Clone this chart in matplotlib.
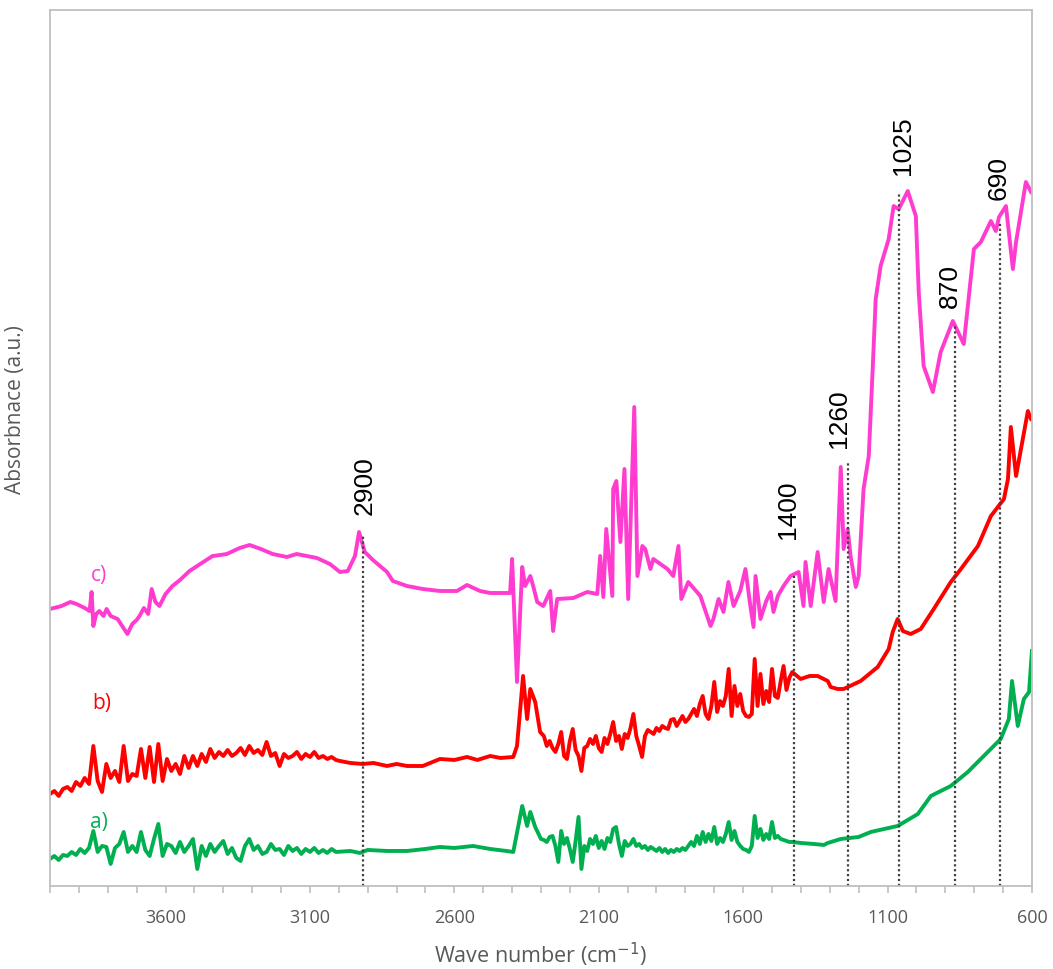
import numpy as np
import matplotlib
matplotlib.use("Agg")
import matplotlib.pyplot as plt
from matplotlib.ticker import MultipleLocator, FixedLocator

# ---- data (wavenumber in cm-1, absorbance in a.u.) ----
# noisy parts of the spectra are sampled on regular wavenumber grids
grid_hi = np.arange(4000, 3009, -15)   # 4000 ... 3010
grid_mid = np.arange(2290, 1429, -10)  # 2290 ... 1430

# a) green
a_hi = [0.27, 0.30, 0.26, 0.31, 0.30, 0.34, 0.31, 0.37, 0.33, 0.38, 0.55, 0.34,
        0.40, 0.39, 0.22, 0.38, 0.42, 0.54, 0.34, 0.40, 0.34, 0.54, 0.36, 0.30,
        0.47, 0.62, 0.30, 0.42, 0.40, 0.33, 0.44, 0.34, 0.40, 0.47, 0.17, 0.40,
        0.30, 0.42, 0.34, 0.40, 0.45, 0.32, 0.38, 0.28, 0.25, 0.40, 0.47, 0.36,
        0.40, 0.32, 0.34, 0.42, 0.36, 0.37, 0.31, 0.40, 0.35, 0.38, 0.32, 0.37,
        0.34, 0.38, 0.33, 0.36, 0.33, 0.37, 0.34]
a_mid_wn = [2960, 2927, 2900, 2833, 2764, 2700, 2650, 2600, 2535, 2476, 2420,
            2396, 2365, 2348, 2337, 2320, 2300]
a_mid = [0.35, 0.33, 0.36, 0.35, 0.35, 0.37, 0.39, 0.38, 0.40, 0.37, 0.35,
         0.34, 0.80, 0.60, 0.74, 0.59, 0.47]
a_noisy = [0.46, 0.44, 0.49, 0.50, 0.40, 0.24, 0.55, 0.42, 0.48, 0.37, 0.24, 0.45,
           0.69, 0.17, 0.40, 0.35, 0.47, 0.42, 0.50, 0.38, 0.45, 0.37, 0.48, 0.44,
           0.57, 0.59, 0.42, 0.30, 0.45, 0.40, 0.42, 0.47, 0.40, 0.42, 0.38, 0.40,
           0.36, 0.39, 0.37, 0.35, 0.38, 0.34, 0.37, 0.33, 0.36, 0.34, 0.37, 0.35,
           0.38, 0.36, 0.40, 0.44, 0.40, 0.50, 0.42, 0.54, 0.44, 0.52, 0.45, 0.59,
           0.42, 0.48, 0.44, 0.52, 0.64, 0.46, 0.55, 0.44, 0.40, 0.37, 0.36, 0.34,
           0.40, 0.70, 0.48, 0.57, 0.46, 0.52, 0.47, 0.64, 0.48, 0.50, 0.47, 0.46,
           0.45, 0.44, 0.44]
a_lo_wn = [1400, 1356, 1320, 1307, 1262, 1200, 1158, 1065, 995, 950, 881, 822,
           753, 708, 680, 669, 649, 628, 610, 600]
a_lo = [0.43, 0.42, 0.41, 0.43, 0.47, 0.49, 0.54, 0.60, 0.72, 0.90, 1.00, 1.14,
        1.34, 1.47, 1.67, 2.05, 1.60, 1.87, 1.94, 2.35]

# b) red
b_hi = [0.92, 0.95, 0.90, 0.97, 0.99, 0.95, 1.04, 1.00, 1.08, 1.02, 1.40, 1.05,
        0.94, 1.22, 1.08, 1.15, 1.04, 1.40, 1.05, 1.12, 1.10, 1.37, 1.08, 1.39,
        1.04, 1.42, 1.05, 1.27, 1.15, 1.22, 1.12, 1.30, 1.18, 1.30, 1.20, 1.32,
        1.24, 1.37, 1.28, 1.34, 1.30, 1.36, 1.30, 1.33, 1.38, 1.31, 1.40, 1.33,
        1.36, 1.31, 1.44, 1.30, 1.33, 1.20, 1.32, 1.28, 1.30, 1.34, 1.27, 1.32,
        1.29, 1.34, 1.28, 1.30, 1.27, 1.29, 1.26]
b_mid_wn = [2996, 2960, 2917, 2880, 2833, 2800, 2764, 2709, 2650, 2600, 2556,
            2520, 2476, 2440, 2396, 2383, 2362, 2348, 2337, 2320, 2303]
b_mid = [1.25, 1.23, 1.22, 1.23, 1.20, 1.22, 1.20, 1.20, 1.27, 1.26, 1.29,
         1.26, 1.30, 1.28, 1.29, 1.40, 2.10, 1.67, 1.97, 1.84, 1.54]
b_noisy = [1.50, 1.40, 1.45, 1.38, 1.34, 1.42, 1.54, 1.30, 1.27, 1.45, 1.57, 1.36,
           1.30, 1.15, 1.38, 1.40, 1.47, 1.42, 1.50, 1.38, 1.34, 1.48, 1.42, 1.52,
           1.64, 1.45, 1.50, 1.37, 1.52, 1.48, 1.58, 1.72, 1.50, 1.40, 1.29, 1.50,
           1.56, 1.54, 1.52, 1.58, 1.55, 1.60, 1.58, 1.57, 1.66, 1.67, 1.60, 1.65,
           1.70, 1.64, 1.67, 1.72, 1.77, 1.70, 1.82, 1.90, 1.72, 1.67, 1.80, 2.04,
           1.74, 1.85, 1.80, 1.90, 2.17, 1.70, 2.00, 1.80, 1.92, 1.75, 1.70, 1.69,
           1.72, 2.27, 1.80, 2.12, 1.82, 1.95, 1.84, 2.17, 1.90, 1.88, 2.05, 2.20,
           1.96, 2.08, 2.14]
b_lo_wn = [1401, 1370, 1342, 1307, 1297, 1273, 1252, 1193, 1134, 1096, 1082,
           1065, 1047, 1020, 985, 940, 881, 846, 787, 742, 697, 683, 673, 655,
           614, 603]
b_lo = [2.07, 2.10, 2.10, 2.05, 1.99, 1.97, 1.97, 2.05, 2.19, 2.37, 2.54,
        2.67, 2.55, 2.52, 2.57, 2.77, 3.04, 3.17, 3.40, 3.70, 3.87, 4.07, 4.59,
        4.10, 4.75, 4.67]

# c) magenta
wn_c = [4000, 3960, 3930, 3908, 3880, 3863, 3856, 3850, 3840, 3829, 3815, 3804,
        3790, 3766, 3750, 3732, 3715, 3700, 3690, 3675, 3660, 3648, 3635, 3621,
        3600, 3576, 3550, 3517, 3480, 3437, 3410, 3388, 3343, 3309, 3270, 3229,
        3180, 3146, 3110, 3076, 3031, 2996, 2969, 2944, 2930, 2910, 2882, 2833,
        2813, 2764, 2709, 2650, 2591, 2556, 2511, 2476, 2407, 2400, 2383, 2365,
        2355, 2337, 2327, 2313, 2292, 2268, 2258, 2244, 2188, 2140, 2105, 2095,
        2084, 2074, 2053, 2050, 2039, 2025, 2011, 1998, 1977, 1966, 1949, 1939,
        1921, 1911, 1862, 1842, 1824, 1814, 1790, 1748, 1713, 1703, 1685, 1668,
        1651, 1633, 1610, 1592, 1575, 1564, 1557, 1540, 1520, 1505, 1495, 1480,
        1460, 1436, 1408, 1391, 1384, 1366, 1342, 1321, 1304, 1280, 1262, 1252,
        1238, 1228, 1210, 1200, 1183, 1165, 1151, 1141, 1124, 1096, 1079, 1061,
        1030, 1002, 992, 975, 943, 916, 874, 836, 801, 777, 742, 725, 714, 690,
        666, 655, 621, 603]
abs_c = [2.77, 2.80, 2.84, 2.82, 2.78, 2.75, 2.94, 2.60, 2.72, 2.75, 2.70, 2.77,
         2.70, 2.67, 2.60, 2.52, 2.62, 2.66, 2.70, 2.78, 2.72, 2.97, 2.84, 2.80,
         2.92, 3.00, 3.06, 3.15, 3.22, 3.30, 3.31, 3.32, 3.38, 3.41, 3.37, 3.32,
         3.29, 3.32, 3.30, 3.28, 3.22, 3.14, 3.15, 3.30, 3.54, 3.34, 3.26, 3.14,
         3.05, 3.00, 2.97, 2.95, 2.95, 3.01, 2.95, 2.93, 2.93, 3.27, 2.04, 3.19,
         3.00, 3.10, 3.00, 2.84, 2.80, 2.95, 2.55, 2.87, 2.88, 2.94, 2.92, 3.30,
         2.89, 3.57, 2.90, 3.97, 4.05, 3.44, 4.17, 2.87, 4.79, 3.10, 3.40, 3.37,
         3.17, 3.27, 3.17, 3.10, 3.40, 2.87, 3.04, 2.90, 2.60, 2.67, 2.87, 2.74,
         3.04, 2.80, 2.95, 3.17, 2.80, 2.59, 3.10, 2.67, 2.85, 2.94, 2.74, 2.90,
         3.00, 3.10, 3.14, 2.80, 3.24, 2.80, 3.34, 2.84, 3.17, 2.85, 4.19, 3.37,
         3.57, 3.30, 2.99, 3.10, 3.97, 4.30, 5.20, 5.87, 6.20, 6.47, 6.80, 6.77,
         6.95, 6.70, 5.94, 5.20, 4.94, 5.34, 5.65, 5.42, 6.37, 6.44, 6.65, 6.55,
         6.69, 6.80, 6.17, 6.44, 7.04, 6.94]

# peak markers: dotted line position/top, label position/base
peak_labels = ["2900", "1400", "1260", "1025", "870", "690"]
peak_line_x = [2915, 1425, 1237, 1060, 868, 712]
peak_line_top = [3.52, 3.10, 4.25, 6.92, 5.60, 6.65]
peak_text_x = [2910, 1446, 1269, 1047, 884, 714]
peak_text_y = [3.72, 3.48, 4.39, 7.12, 5.79, 6.87]

series_names = ["a)", "b)", "c)"]
series_pos_x = [3829, 3822, 3832]
series_pos_y = [0.64, 1.83, 3.12]

col_a = "#00B050"
col_b = "#FF0000"
col_c = "#FF3CCF"
grey = "#595959"

wn_a = np.concatenate([grid_hi, a_mid_wn, grid_mid, a_lo_wn])
abs_a = np.concatenate([a_hi, a_mid, a_noisy, a_lo])
wn_b = np.concatenate([grid_hi, b_mid_wn, grid_mid, b_lo_wn])
abs_b = np.concatenate([b_hi, b_mid, b_noisy, b_lo])

fig = plt.figure(figsize=(10.53, 9.70), dpi=100)
ax = fig.add_axes([0.0475, 0.0856, 0.9325, 0.903])

ax.plot(wn_a, abs_a, color=col_a, lw=2.8, solid_joinstyle="round")
ax.plot(wn_b, abs_b, color=col_b, lw=2.8, solid_joinstyle="round")
ax.plot(wn_c, abs_c, color=col_c, lw=2.8, solid_joinstyle="round")

for xl, top in zip(peak_line_x, peak_line_top):
    ax.plot([xl, xl], [0, top], color="#404040", lw=1.6, ls=(0, (1, 1.2)))
for lab, xt, yt in zip(peak_labels, peak_text_x, peak_text_y):
    ax.text(xt, yt, lab, rotation=90, ha="center", va="bottom",
            fontsize=19, family="Liberation Sans", color="black")

for name, col, xs, ys in zip(series_names, [col_a, col_b, col_c],
                             series_pos_x, series_pos_y):
    ax.text(xs, ys, name, color=col, fontsize=15, family="Open Sans",
            ha="center", va="center")

ax.set_xlim(4000, 600)
ax.set_ylim(0, 8.76)
ax.xaxis.set_major_locator(FixedLocator([3600, 3100, 2600, 2100, 1600, 1100, 600]))
ax.xaxis.set_minor_locator(MultipleLocator(100))
ax.set_yticks([])
ax.tick_params(axis="x", which="both", direction="out", length=5, width=1.2,
               color="#BFBFBF", labelsize=13, labelcolor=grey, pad=11)
for lbl in ax.get_xticklabels():
    lbl.set_family("Open Sans")
for sp in ax.spines.values():
    sp.set_color("#BFBFBF")
    sp.set_linewidth(1.3)

ax.set_xlabel("Wave number (cm$^{-1}$)", fontsize=15.5, color=grey,
              family="Open Sans", labelpad=10)
ax.set_ylabel("Absorbnace (a.u.)", fontsize=15, color=grey,
              family="Open Sans")
ax.yaxis.set_label_coords(-0.024, 0.545)

fig.savefig("out.png", dpi=100)
